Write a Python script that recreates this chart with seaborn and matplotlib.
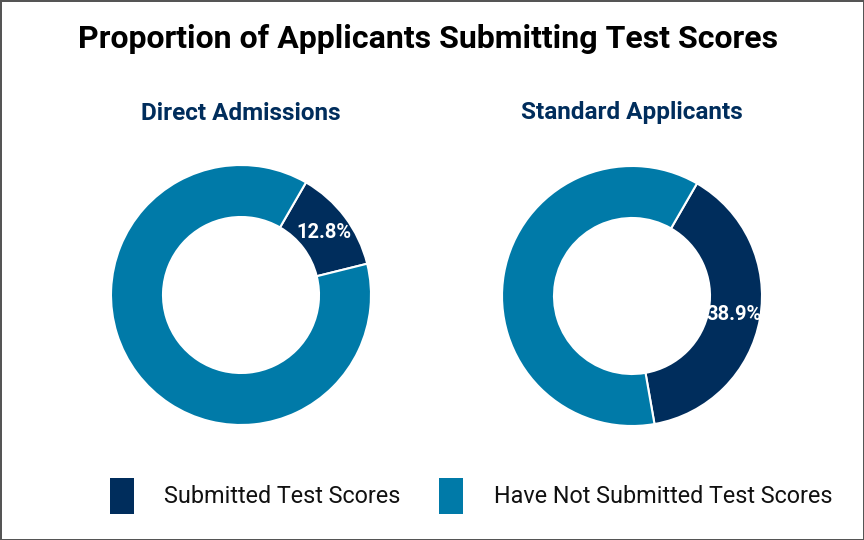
import matplotlib.pyplot as plt
import seaborn as sns
from matplotlib.patches import Patch

# ---------- Data ----------
groups = ["Direct Admissions", "Standard Applicants"]
categories = ["Submitted Test Scores", "Have Not Submitted Test Scores"]
submitted_pct = [12.8, 38.9]
not_submitted_pct = [87.2, 61.1]

navy = "#002D5C"
teal = "#007AA8"
palette = [navy, teal]

sns.set_theme(style="white")
plt.rcParams["font.family"] = ["Roboto", "DejaVu Sans"]

fig = plt.figure(figsize=(8.64, 5.4), dpi=100)
fig.patch.set_edgecolor("#555555")
fig.patch.set_linewidth(2)

W, H = 864, 540
centers = [(241, 295), (632, 296)]
R = 130

for i, (name, (cx, cy)) in enumerate(zip(groups, centers)):
    ax = fig.add_axes([(cx - R) / W, (H - cy - R) / H, 2 * R / W, 2 * R / H])
    vals = [submitted_pct[i], not_submitted_pct[i]]
    wedges, texts, autotexts = ax.pie(
        vals, colors=palette, startangle=60, counterclock=False,
        autopct=lambda p: f"{p:.1f}%" if p < 50 else "",
        pctdistance=0.8, radius=1.0,
        wedgeprops=dict(width=0.4, edgecolor="white", linewidth=1.5),
        textprops=dict(color="white", fontsize=14.5, fontweight="bold"),
    )
    ax.set_xlim(-1, 1)
    ax.set_ylim(-1, 1)
    ax.set_aspect("equal")
    ax.axis("off")
    fig.text(cx / W, (H - 113) / H, name, ha="center", va="center",
             fontsize=17.5, fontweight="bold", color=navy)

fig.text(428 / W, (H - 39) / H, "Proportion of Applicants Submitting Test Scores",
         ha="center", va="center", fontsize=23, fontweight="bold", color="black")

handles = [Patch(facecolor=c, edgecolor="none") for c in palette]
fig.legend(handles, categories, loc="center", bbox_to_anchor=(471 / W, (H - 496) / H),
           ncol=2, frameon=False, fontsize=16.8, handlelength=1.03, handleheight=2.0,
           handletextpad=1.3, columnspacing=1.67, labelcolor="#111111")

plt.savefig("out.png", dpi=100, edgecolor=fig.get_edgecolor())
